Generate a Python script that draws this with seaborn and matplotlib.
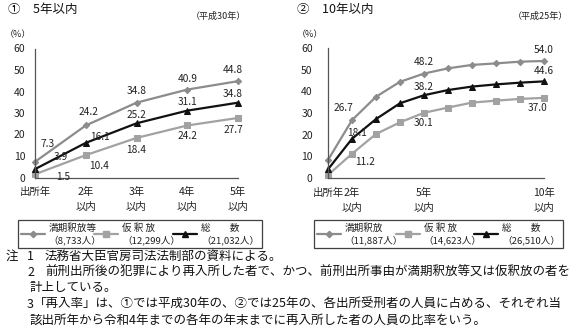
import matplotlib
matplotlib.use("Agg")
import matplotlib.pyplot as plt
import seaborn as sns
import pandas as pd
from matplotlib.lines import Line2D

sns.set_theme(style="white")
plt.rcParams['font.family'] = ['Noto Sans CJK JP', 'DejaVu Sans']

# ---- data ----
x1_labels = ["出所年", "2年\n以内", "3年\n以内", "4年\n以内", "5年\n以内"]
c1_manki = [7.3, 24.2, 34.8, 40.9, 44.8]
c1_kari = [1.5, 10.4, 18.4, 24.2, 27.7]
c1_total = [3.9, 16.1, 25.2, 31.1, 34.8]

x2_labels = ["出所年", "2年\n以内", "", "", "5年\n以内", "", "", "", "", "10年\n以内"]
c2_manki = [8.3, 26.7, 37.5, 44.4, 48.2, 50.6, 52.2, 52.9, 53.7, 54.0]
c2_kari = [1.4, 11.2, 20.3, 25.7, 30.1, 32.5, 34.8, 35.7, 36.5, 37.0]
c2_total = [4.0, 18.1, 27.2, 34.5, 38.2, 40.6, 42.2, 43.2, 44.0, 44.6]

legend1 = ["満期釈放等\n（8,733人）", "仮 釈 放\n（12,299人）", "総　　数\n（21,032人）"]
legend2 = ["満期釈放\n（11,887人）", "仮 釈 放\n（14,623人）", "総　　数\n（26,510人）"]

styles = [
    dict(color="#8c8c8c", marker="D", ms=3.2, lw=1.6),
    dict(color="#a2a2a2", marker="s", ms=4.2, lw=1.6),
    dict(color="#111111", marker="^", ms=4.5, lw=1.6),
]

fig = plt.figure(figsize=(5.7, 3.28), dpi=100)

ax1 = fig.add_axes([35/570, 1-177.5/328, 203/570, 129/328])
ax2 = fig.add_axes([328/570, 1-178/328, 216/570, 130/328])

def draw(ax, labels, series, annots):
    n = len(labels)
    for vals, st in zip(series, styles):
        df = pd.DataFrame({"x": list(range(n)), "y": vals})
        sns.lineplot(data=df, x="x", y="y", ax=ax, color=st["color"], lw=st["lw"],
                     marker=st["marker"], markersize=st["ms"], markeredgecolor=st["color"],
                     markerfacecolor=st["color"], clip_on=False)
    ax.set_xlim(0, n - 1)
    ax.set_ylim(0, 60)
    ax.set_yticks(range(0, 61, 10))
    ax.set_xticks(range(n))
    ax.set_xticklabels(labels, fontsize=7.5, linespacing=1.6, color="#222222")
    ax.set_xlabel("")
    ax.set_ylabel("")
    for s in ["top", "right"]:
        ax.spines[s].set_visible(False)
    for s in ["left", "bottom"]:
        ax.spines[s].set_color("#555555")
        ax.spines[s].set_linewidth(0.9)
    ax.tick_params(axis="both", direction="in", length=3, width=0.8, color="#555555",
                   labelsize=7.5, labelcolor="#222222")
    ax.tick_params(axis="y", pad=7)
    ax.tick_params(axis="x", pad=7)
    for (si, i, dx, dy) in annots:
        v = series[si][i]
        ax.annotate(f"{v:.1f}", (i, v), xytext=(dx, dy), textcoords="offset pixels",
                    ha="center", va="center", fontsize=7.3, color="#222222")

# series indices: 0 manki, 1 kari, 2 total
ann1 = [
    (0, 0, 13, 18), (0, 1, 3, 13), (0, 2, 0, 12), (0, 3, 0, 11), (0, 4, -5, 11),
    (2, 0, 26, 12), (2, 1, 14, 6), (2, 2, 0, 8), (2, 3, 0, 9), (2, 4, -5, 9),
    (1, 0, 28, -3), (1, 1, 13, -11), (1, 2, 0, -12), (1, 3, 0, -11), (1, 4, -5, -12),
]
ann2 = [
    (0, 1, -9, 12), (0, 4, 0, 12), (0, 9, 0, 11),
    (2, 1, 5, 6), (2, 4, 0, 8), (2, 9, 0, 10),
    (1, 1, 13, -8), (1, 4, 0, -10), (1, 9, -6, -10),
]

draw(ax1, x1_labels, [c1_manki, c1_kari, c1_total], ann1)
draw(ax2, x2_labels, [c2_manki, c2_kari, c2_total], ann2)
ax2.tick_params(axis="y", pad=11)

# titles
fig.text(8/570, 1-9/328, "①　5年以内", fontsize=9, va="center", ha="left", color="#111111")
fig.text(297/570, 1-9/328, "②　10年以内", fontsize=9, va="center", ha="left", color="#111111")
fig.text(246/570, 1-16/328, "（平成30年）", fontsize=6.5, va="center", ha="right", color="#222222")
fig.text(568/570, 1-16/328, "（平成25年）", fontsize=6.5, va="center", ha="right", color="#222222")
fig.text(18/570, 1-35/328, "（%）", fontsize=6.5, va="center", ha="center", color="#222222")
fig.text(310/570, 1-35/328, "（%）", fontsize=6.5, va="center", ha="center", color="#222222")

# legends
def make_handles():
    return [Line2D([0], [0], color=st["color"], lw=st["lw"], marker=st["marker"],
                   markersize=st["ms"], markerfacecolor=st["color"], markeredgecolor=st["color"])
            for st in styles]

for labels, (x0, x1) in [(legend1, (18, 262)), (legend2, (314, 563))]:
    leg = fig.legend(make_handles(), labels, ncol=3, loc="lower left",
                     bbox_to_anchor=(x0/570, 1-248/328, (x1-x0)/570, 31/328),
                     mode="expand", fontsize=6.9, frameon=True, fancybox=False,
                     borderaxespad=0, handlelength=2.5, handletextpad=0.4,
                     columnspacing=0.6, borderpad=0.3, labelspacing=0.2)
    leg.get_frame().set_edgecolor("#111111")
    leg.get_frame().set_linewidth(0.9)
    for t in leg.get_texts():
        t.set_linespacing(1.3)
        t.set_color("#222222")

# notes
notes = [
    (6, 256, "注"),
    (27, 256, "1"),
    (45, 256, "法務省大臣官房司法法制部の資料による。"),
    (27, 272, "2"),
    (45, 272, "前刑出所後の犯罪により再入所した者で、かつ、前刑出所事由が満期釈放等又は仮釈放の者を"),
    (30, 288, "計上している。"),
    (27, 304, "3"),
    (34, 304, "「再入率」は、①では平成30年の、②では25年の、各出所受刑者の人員に占める、それぞれ当"),
    (30, 320, "該出所年から令和4年までの各年の年末までに再入所した者の人員の比率をいう。"),
]
for x, y, s in notes:
    fig.text(x/570, 1-y/328, s, fontsize=9.0, va="center", ha="left", color="#111111")

fig.savefig("out.png", dpi=100)
